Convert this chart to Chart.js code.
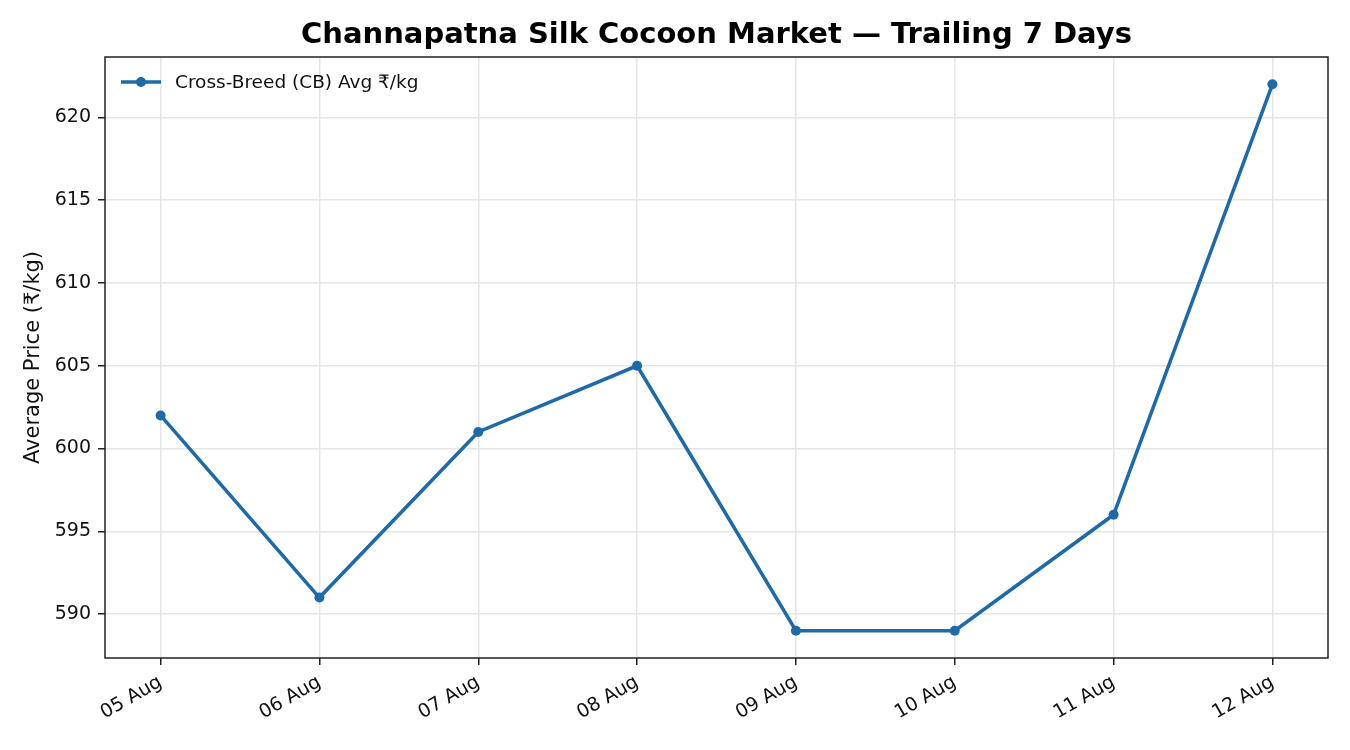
<!DOCTYPE html>
<html lang="en">
<head>
    <meta charset="UTF-8">
    <title>Channapatna Silk Cocoon Market</title>
    <script src="https://cdn.jsdelivr.net/npm/chart.js"></script>
    <style>
        html, body { margin: 0; padding: 0; background: #fff; }
        #wrap { width: 1350px; height: 750px; }
    </style>
</head>
<body>
    <div id="wrap"><canvas id="priceChart" width="1350" height="750"></canvas></div>

    <script>
        // chart data
        const dayLabels = ['05 Aug', '06 Aug', '07 Aug', '08 Aug', '09 Aug', '10 Aug', '11 Aug', '12 Aug'];
        const cbPrices = [602, 591, 601, 605, 589, 589, 596, 622];
        const yTicks = [590, 595, 600, 605, 610, 615, 620];
        const seriesName = 'Cross-Breed (CB) Avg ₹/kg';
        const chartTitle = 'Channapatna Silk Cocoon Market — Trailing 7 Days';

        const lineColor = '#1f6aa6';
        const gridColor = '#e6e6e6';
        const fontFamily = "'DejaVu Sans', sans-serif";

        // title, frame and legend drawn by hand to look like the original
        const extras = {
            id: 'extras',
            afterDraw(chart) {
                const ctx = chart.ctx;
                const a = chart.chartArea;
                ctx.save();
                ctx.strokeStyle = '#222';
                ctx.lineWidth = 1.5;
                ctx.strokeRect(a.left, a.top, a.right - a.left, a.bottom - a.top);

                ctx.fillStyle = '#000';
                ctx.font = 'bold 29px ' + fontFamily;
                ctx.textAlign = 'center';
                ctx.textBaseline = 'middle';
                ctx.fillText(chartTitle, (a.left + a.right) / 2, 35);

                // legend
                const ly = 82;
                ctx.strokeStyle = lineColor;
                ctx.lineWidth = 3.5;
                ctx.beginPath();
                ctx.moveTo(121, ly);
                ctx.lineTo(161, ly);
                ctx.stroke();
                ctx.fillStyle = lineColor;
                ctx.beginPath();
                ctx.arc(141, ly, 5, 0, Math.PI * 2);
                ctx.fill();
                ctx.fillStyle = '#111';
                ctx.font = '18.5px ' + fontFamily;
                ctx.textAlign = 'left';
                ctx.fillText(seriesName, 175, ly + 1);
                ctx.restore();
            }
        };

        const ctx = document.getElementById('priceChart').getContext('2d');
        new Chart(ctx, {
            type: 'line',
            data: {
                datasets: [{
                    label: seriesName,
                    data: cbPrices.map((v, i) => ({ x: i, y: v })),
                    borderColor: lineColor,
                    backgroundColor: lineColor,
                    borderWidth: 3.5,
                    pointRadius: 5,
                    pointBorderWidth: 0,
                    pointHoverRadius: 5,
                    tension: 0
                }]
            },
            options: {
                responsive: false,
                animation: false,
                layout: { padding: { top: 57, right: 22, left: 0, bottom: 0 } },
                plugins: {
                    legend: { display: false },
                    title: { display: false },
                    tooltip: { enabled: false }
                },
                scales: {
                    x: {
                        type: 'linear',
                        min: -0.35,
                        max: dayLabels.length - 1 + 0.35,
                        afterBuildTicks(scale) {
                            scale.ticks = dayLabels.map((_, i) => ({ value: i }));
                        },
                        afterFit(scale) { scale.height = 92; },
                        ticks: {
                            autoSkip: false,
                            minRotation: 30,
                            maxRotation: 30,
                            color: '#111',
                            padding: 6,
                            font: { family: fontFamily, size: 19 },
                            callback: (v) => dayLabels[v]
                        },
                        grid: {
                            color: gridColor,
                            tickColor: '#222',
                            tickLength: 7,
                            lineWidth: 1.5,
                            tickWidth: 1.5
                        },
                        border: { display: false }
                    },
                    y: {
                        min: 587.35,
                        max: 623.65,
                        afterBuildTicks(scale) {
                            scale.ticks = yTicks.map(v => ({ value: v }));
                        },
                        afterFit(scale) { scale.width = 105; },
                        ticks: {
                            color: '#111',
                            padding: 7,
                            font: { family: fontFamily, size: 19 }
                        },
                        grid: {
                            color: gridColor,
                            tickColor: '#222',
                            tickLength: 7,
                            lineWidth: 1.5,
                            tickWidth: 1.5
                        },
                        border: { display: false },
                        title: {
                            display: true,
                            text: 'Average Price (₹/kg)',
                            color: '#111',
                            padding: { top: 21, bottom: 0 },
                            font: { family: fontFamily, size: 21 }
                        }
                    }
                }
            },
            plugins: [extras]
        });
    </script>
</body>
</html>
